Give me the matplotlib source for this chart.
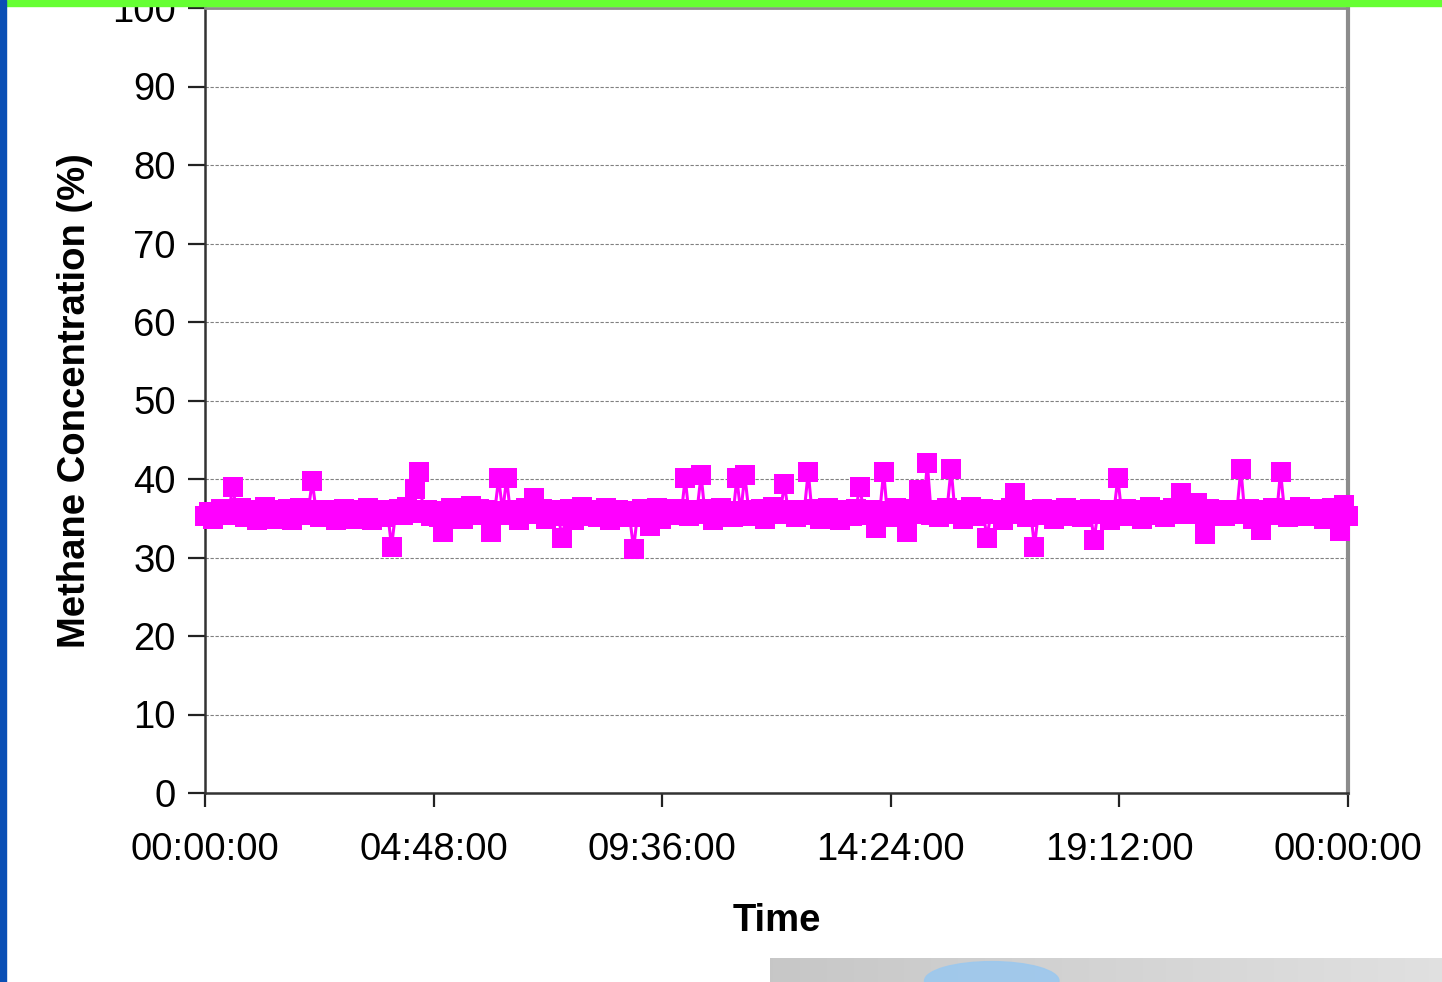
import numpy as np
import matplotlib
matplotlib.use("Agg")
import matplotlib.pyplot as plt
from matplotlib.patches import Rectangle, Ellipse

plt.rcParams['font.family'] = ['Liberation Sans', 'DejaVu Sans']

# Methane readings, one every 5 minutes over a full day (00:00 .. 24:00)
methane_pct = [
    35.3, 35.8, 34.9, 35.6, 36.2, 35.4, 35.9, 39.0, 35.7, 36.3,
    35.2, 35.8, 36.1, 34.8, 35.6, 36.4, 35.3, 35.9, 34.9, 36.0,
    35.5, 36.2, 34.8, 35.7, 36.3, 35.4, 35.8, 39.7, 36.0, 35.2,
    35.9, 35.4, 36.1, 34.8, 35.6, 36.2, 35.3, 35.8, 34.9, 36.0,
    35.5, 36.3, 34.8, 35.7, 36.1, 35.2, 35.8, 31.4, 35.6, 36.2,
    35.4, 36.4, 35.9, 38.7, 40.9, 35.7, 36.0, 35.3, 35.9, 35.2,
    33.2, 35.8, 36.3, 35.5, 36.0, 34.9, 35.7, 36.5, 35.4, 36.2,
    35.6, 36.0, 33.2, 35.9, 40.1, 35.8, 40.1, 35.4, 36.1, 34.8,
    35.7, 36.3, 35.5, 37.6, 35.9, 36.2, 34.9, 35.8, 36.0, 35.3,
    32.5, 35.6, 36.2, 34.8, 35.9, 36.4, 35.3, 35.7, 36.1, 35.2,
    35.8, 36.3, 34.8, 35.6, 36.1, 35.4, 35.9, 35.2, 31.1, 35.7,
    36.2, 35.5, 34.0, 35.8, 36.3, 34.9, 35.9, 36.0, 35.4, 36.2,
    35.6, 40.1, 35.3, 35.9, 36.1, 40.5, 35.5, 36.2, 34.8, 35.8,
    36.3, 35.4, 35.9, 35.2, 40.1, 35.7, 40.5, 36.0, 35.3, 35.8,
    36.2, 34.9, 35.7, 36.4, 35.5, 35.9, 39.4, 35.6, 36.1, 35.2,
    35.8, 36.0, 40.9, 35.4, 36.2, 34.9, 35.7, 36.3, 35.5, 35.9,
    34.8, 36.1, 35.6, 35.3, 36.2, 39.0, 35.8, 35.4, 36.0, 33.8,
    35.7, 40.9, 35.2, 35.9, 36.3, 35.5, 36.0, 33.2, 35.6, 36.2,
    38.6, 35.8, 42.0, 35.4, 36.1, 35.2, 35.9, 36.3, 41.3, 35.6,
    36.0, 34.9, 35.8, 36.4, 35.3, 35.7, 36.2, 32.5, 35.5, 35.9,
    36.1, 34.8, 35.7, 36.3, 38.2, 35.6, 35.9, 35.2, 36.0, 31.4,
    35.8, 36.2, 35.4, 35.9, 34.9, 36.1, 35.6, 36.3, 35.3, 35.8,
    36.0, 35.2, 35.7, 36.2, 32.2, 35.9, 35.5, 36.1, 34.8, 35.8,
    40.1, 35.6, 36.2, 35.3, 35.9, 36.0, 34.9, 35.7, 36.4, 35.4,
    35.8, 36.1, 35.2, 35.9, 36.3, 35.5, 38.2, 35.7, 36.0, 35.6,
    37.0, 35.9, 33.0, 36.2, 35.4, 35.8, 36.1, 35.3, 36.0, 35.6,
    35.9, 41.3, 35.5, 36.2, 34.9, 35.8, 33.5, 36.0, 35.6, 36.3,
    35.4, 40.9, 35.9, 35.2, 36.1, 35.7, 36.4, 35.3, 35.8, 36.0,
    35.5, 36.2, 34.9, 35.9, 36.3, 35.6, 33.4, 36.7, 35.3,
]
sample_minutes = 5

x_tick_hours = [0, 4.8, 9.6, 14.4, 19.2, 24]
x_tick_labels = ["00:00:00", "04:48:00", "09:36:00", "14:24:00", "19:12:00", "00:00:00"]
y_ticks = [0, 10, 20, 30, 40, 50, 60, 70, 80, 90, 100]

hours = np.arange(len(methane_pct)) * sample_minutes / 60.0

W, H = 1442, 982
fig = plt.figure(figsize=(W / 100, H / 100), dpi=100)
fig.patch.set_facecolor("white")
ax = fig.add_axes([205 / W, 1 - 793 / H, (1348 - 205) / W, (793 - 8) / H])

ax.plot(hours, methane_pct, color="#FF00FF", lw=2.2, marker="s", ms=14.6,
        mew=0, mfc="#FF00FF", clip_on=False, zorder=5)

ax.set_xlim(0, 24)
ax.set_ylim(0, 100)
ax.set_xticks(x_tick_hours)
ax.set_xticklabels(x_tick_labels)
ax.set_yticks(y_ticks)

ax.grid(axis="y", color="#808080", lw=0.8, ls=(0, (3, 1.5)))
ax.set_axisbelow(True)

ax.tick_params(axis="y", direction="out", length=12, width=1.6, color="#222222",
               labelsize=27.5, pad=9)
ax.tick_params(axis="x", direction="out", length=10, width=1.6, color="#222222",
               labelsize=27.5, pad=18)

for side in ("left", "bottom"):
    ax.spines[side].set_color("#333333")
    ax.spines[side].set_linewidth(1.8)
ax.spines["right"].set_color("#8c8c8c")
ax.spines["right"].set_linewidth(3)
ax.spines["top"].set_color("#8c8c8c")
ax.spines["top"].set_linewidth(2)

ax.set_xlabel("Time", fontsize=27.5, fontweight="bold", labelpad=25)
ax.set_ylabel("Methane Concentration (%)", fontsize=27.5, fontweight="bold", labelpad=14)

# slide decoration: green header bar, blue left edge, photo strip at bottom right
fig.patches.append(Rectangle((0, 1 - 6 / H), 1, 6 / H, transform=fig.transFigure,
                             color="#66FF33", zorder=20))
fig.patches.append(Rectangle((0, 0), 6 / W, 1, transform=fig.transFigure,
                             color="#0a4fb5", zorder=20))
grad = np.linspace(0.78, 0.88, 200).reshape(1, -1)
strip = fig.add_axes([770 / W, 0, (W - 770) / W, 24 / H], zorder=20)
strip.imshow(np.dstack([grad, grad, grad]), aspect="auto", extent=(0, 1, 0, 1))
strip.add_patch(Ellipse((0.33, 0.05), 0.2, 1.6, color="#9cc8ee", alpha=0.9))
strip.set_xlim(0, 1)
strip.set_ylim(0, 1)
strip.axis("off")

fig.savefig("out.png", dpi=100)
